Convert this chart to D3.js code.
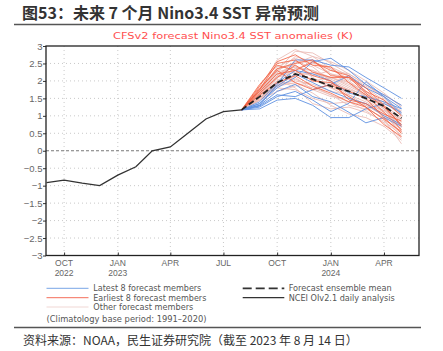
<!DOCTYPE html>
<html><head><meta charset="utf-8">
<script src="https://cdn.jsdelivr.net/npm/d3@7/dist/d3.min.js"></script>
<style>body{margin:0;background:#fff}svg{display:block}</style>
</head><body>
<script>
// ---- data ----
const obsDates = ["2022-09-01","2022-10-01","2022-11-01","2022-12-01","2023-01-01","2023-02-01","2023-03-01","2023-04-01","2023-05-01","2023-06-01","2023-07-01","2023-08-01"];
const obsValues = [-0.91,-0.84,-0.93,-1.0,-0.70,-0.46,0.0,0.11,0.50,0.91,1.12,1.17];
const fcDates = ["2023-08-01","2023-09-01","2023-10-01","2023-11-01","2023-12-01","2024-01-01","2024-02-01","2024-03-01","2024-04-01","2024-05-01"];
const ensembleMean = [1.17,1.55,1.95,2.20,2.05,1.85,1.70,1.50,1.28,0.93];
const earliestMembers = [
 [1.17,1.85,2.55,2.75,2.45,2.4,1.95,1.6,1.1,0.6],
 [1.17,1.75,2.35,2.5,2.6,2.15,2.1,1.65,1.25,0.75],
 [1.17,1.9,2.45,2.3,2.0,1.95,1.7,1.5,0.95,0.5],
 [1.17,1.7,2.2,2.3,2.55,2.3,2.15,1.7,1.45,1.0],
 [1.17,1.8,2.3,1.95,1.75,1.9,1.55,1.25,0.75,0.4],
 [1.17,1.65,2.1,2.45,2.15,2.0,1.45,1.35,1.05,0.85],
 [1.17,1.75,2.5,2.6,2.25,2.1,2.1,1.8,1.3,0.7],
 [1.17,1.6,1.95,2.15,1.85,1.65,1.4,1.25,0.9,0.55]
];
const latestMembers = [
 [1.17,1.3,1.9,2.6,2.6,2.45,2.4,2.1,1.8,1.5],
 [1.17,1.25,1.55,1.7,1.45,1.12,1.36,1.98,1.55,1.21],
 [1.17,1.2,1.45,1.5,1.3,0.95,0.95,1.2,1.35,1.1],
 [1.17,1.35,1.8,2.1,2.55,2.65,2.3,1.9,1.6,1.3],
 [1.17,1.3,1.7,1.9,1.55,1.4,1.1,0.8,0.95,0.7],
 [1.17,1.4,1.95,2.3,2.2,2.0,1.65,1.55,1.4,1.2],
 [1.17,1.28,1.6,1.55,1.75,1.9,2.15,1.8,1.55,1.05],
 [1.17,1.35,1.85,2.2,1.95,1.7,1.5,1.35,1.0,0.75]
];
const otherMembers = [
 [1.17,1.6,2.3,2.85,2.8,2.5,2.2,1.9,1.5,1.0],
 [1.17,1.55,2.1,2.5,2.7,2.55,2.3,2.0,1.65,1.25],
 [1.17,1.5,1.9,2.0,1.9,1.7,1.6,1.4,1.1,0.7],
 [1.17,1.45,1.8,1.75,1.5,1.35,1.4,1.3,1.0,0.6],
 [1.17,1.65,2.2,2.4,2.3,2.1,1.9,1.6,1.25,0.9],
 [1.17,1.7,2.4,2.65,2.45,2.2,2.1,1.7,1.3,0.8],
 [1.17,1.5,1.95,2.15,2.25,2.05,1.8,1.55,1.35,1.15],
 [1.17,1.55,2.0,1.9,1.65,1.3,1.05,0.95,0.7,0.3],
 [1.17,1.6,2.15,2.3,2.0,1.9,1.75,1.6,1.4,1.0],
 [1.17,1.45,1.7,1.85,2.0,2.1,1.95,1.7,1.3,0.95],
 [1.17,1.75,2.6,2.9,2.7,2.35,2.0,1.65,1.2,0.6],
 [1.17,1.5,1.85,2.05,1.85,1.6,1.4,1.15,0.8,0.35],
 [1.17,1.6,2.1,2.25,2.15,2.3,2.2,1.9,1.55,1.1],
 [1.17,1.55,2.05,1.8,1.35,1.2,1.25,1.1,0.85,0.45],
 [1.17,1.7,2.3,2.55,2.4,2.0,1.75,1.45,1.15,0.75],
 [1.17,1.6,2.25,2.7,2.55,2.35,2.05,1.8,1.45,1.05],
 [1.17,1.5,2.0,2.35,2.3,1.95,1.6,1.3,1.05,0.5],
 [1.17,1.45,1.9,2.2,2.05,1.8,1.7,1.5,1.2,0.85],
 [1.17,1.65,2.35,2.45,2.1,1.8,1.55,1.25,0.9,0.2],
 [1.17,1.55,2.1,2.35,2.5,2.4,2.15,1.85,1.6,1.3],
 [1.17,1.5,1.95,2.1,1.75,1.55,1.5,1.35,1.15,0.9],
 [1.17,1.6,2.15,2.55,2.6,2.2,1.95,1.55,1.25,0.65],
 [1.17,1.45,1.85,1.95,1.8,1.6,1.3,1.2,0.95,0.4],
 [1.17,1.7,2.25,2.4,2.2,2.1,1.85,1.6,1.3,0.55]
];
const yTicks = [3,2.5,2,1.5,1,0.5,0,-0.5,-1,-1.5,-2,-2.5,-3];
const xTickDates = ["2022-10-01","2023-01-01","2023-04-01","2023-07-01","2023-10-01","2024-01-01","2024-04-01"];
const xTickLabels = [["OCT","2022"],["JAN","2023"],["APR"],["JUL"],["OCT"],["JAN","2024"],["APR"]];
const titleText = "图53：未来 7 个月 Nino3.4 SST 异常预测";
const subtitleText = "CFSv2 forecast Nino3.4 SST anomalies (K)";
const sourceText = "资料来源：NOAA，民生证券研究院（截至 2023 年 8 月 14 日）";

// ---- drawing ----
const W = 443, H = 351;
const parse = d3.timeParse("%Y-%m-%d");
const svg = d3.select("body").append("svg").attr("width", W).attr("height", H);
const x = d3.scaleTime().domain([parse("2022-08-31"), parse("2024-05-31")]).range([46, 419]);
const y = d3.scaleLinear().domain([-3, 3]).range([255.5, 46]);

// title
svg.append("text").attr("x", 22).attr("y", 19).text(titleText)
  .attr("font-family", "'Noto Sans CJK SC', sans-serif").attr("font-weight", "bold")
  .attr("font-size", 16).attr("fill", "#333");
svg.append("line").attr("x1", 14).attr("x2", 421).attr("y1", 24.5).attr("y2", 24.5)
  .attr("stroke", "#555").attr("stroke-width", 1.5);
svg.append("text").attr("x", 113).attr("y", 38.5).text(subtitleText)
  .attr("font-family", "'DejaVu Sans', sans-serif").attr("font-size", 9.5)
  .attr("textLength", 240).attr("lengthAdjust", "spacingAndGlyphs").attr("fill", "#ff4f4f");

// grid
const g = svg.append("g");
g.selectAll(".hg").data(yTicks.filter(d => d !== 0 && Math.abs(d) !== 3)).enter().append("line")
  .attr("x1", 46).attr("x2", 419).attr("y1", d => y(d)).attr("y2", d => y(d))
  .attr("stroke", "#bbb").attr("stroke-width", 0.8).attr("stroke-dasharray", "1,3");
g.selectAll(".vg").data(xTickDates).enter().append("line")
  .attr("x1", d => x(parse(d))).attr("x2", d => x(parse(d))).attr("y1", 46).attr("y2", 255.5)
  .attr("stroke", "#bbb").attr("stroke-width", 0.8).attr("stroke-dasharray", "1,3");
g.append("line").attr("x1", 46).attr("x2", 419).attr("y1", y(0)).attr("y2", y(0))
  .attr("stroke", "#777").attr("stroke-width", 1).attr("stroke-dasharray", "3,2");

// y axis labels & ticks
const yAxis = d3.axisLeft(y).tickValues(yTicks).tickSize(3)
  .tickFormat(d => (d < 0 ? "\u2212" + Math.abs(d) : String(d)));
const ya = svg.append("g").attr("transform", "translate(46,0)").call(yAxis);
ya.select(".domain").remove();
ya.selectAll("line").attr("stroke", "#333");
ya.selectAll("text").attr("font-family", "'Liberation Sans', sans-serif").attr("font-size", 9.5)
  .attr("fill", "#666").attr("x", -3.5);

// x axis labels
const xAxis = d3.axisBottom(x).tickValues(xTickDates.map(parse)).tickSize(3).tickFormat("");
const xa = svg.append("g").attr("transform", "translate(0,255.5)").call(xAxis);
xa.select(".domain").remove();
xa.selectAll("line").attr("stroke", "#333").attr("transform", "translate(0,-3)");
xTickDates.forEach((d, i) => {
  const t = svg.append("text").attr("x", x(parse(d))).attr("text-anchor", "middle")
    .attr("font-family", "'Liberation Sans Narrow','Liberation Sans', sans-serif").attr("font-size", 8.5).attr("fill", "#666");
  xTickLabels[i].forEach((s, j) => t.append("tspan").attr("x", x(parse(d))).attr("y", 266 + j * 9.5).text(s));
});

// member lines
const line = d3.line().x((d, i) => x(parse(fcDates[i]))).y(d => y(d));
svg.append("clipPath").attr("id", "clip").append("rect").attr("x", 46).attr("y", 46).attr("width", 373).attr("height", 209.5);
const mg = svg.append("g").attr("clip-path", "url(#clip)");
mg.selectAll(".o").data(otherMembers).enter().append("path").attr("d", line)
  .attr("fill", "none").attr("stroke", "rgb(234,186,180)").attr("stroke-opacity", 0.85).attr("stroke-width", 1);
mg.selectAll(".b").data(latestMembers).enter().append("path").attr("d", line)
  .attr("fill", "none").attr("stroke", "rgb(95,145,225)").attr("stroke-opacity", 0.9).attr("stroke-width", 1);
mg.selectAll(".r").data(earliestMembers).enter().append("path").attr("d", line)
  .attr("fill", "none").attr("stroke", "rgb(244,95,62)").attr("stroke-opacity", 0.8).attr("stroke-width", 1);
mg.append("path").attr("d", line(ensembleMean)).attr("fill", "none").attr("stroke", "#222")
  .attr("stroke-width", 1.8).attr("stroke-dasharray", "6,3");
const obsLine = d3.line().x((d, i) => x(parse(obsDates[i]))).y(d => y(d));
mg.append("path").attr("d", obsLine(obsValues)).attr("fill", "none").attr("stroke", "#333").attr("stroke-width", 1.3);

// frame
svg.append("rect").attr("x", 46).attr("y", 46).attr("width", 373).attr("height", 209.5)
  .attr("fill", "none").attr("stroke", "#222").attr("stroke-width", 1.3);

// legend
const lg = svg.append("g").attr("font-family", "'DejaVu Sans', sans-serif").attr("font-size", 8).attr("fill", "#555");
const legItems = [
  {x1: 46.5, x2: 88.5, y: 288.3, color: "rgb(120,165,230)", dash: null, w: 1, tx: 93.3, text: "Latest 8 forecast members", len: 108},
  {x1: 46.5, x2: 88.5, y: 297.7, color: "rgb(244,110,90)", dash: null, w: 1, tx: 93.3, text: "Earliest 8 forecast members", len: 113},
  {x1: 46.5, x2: 88.5, y: 307, color: "rgb(240,215,212)", dash: null, w: 1, tx: 93.3, text: "Other forecast members", len: 100},
  {x1: 242.7, x2: 284.3, y: 288.3, color: "#333", dash: "9,4", w: 1.8, tx: 288.7, text: "Forecast ensemble mean", len: 103},
  {x1: 242.7, x2: 284.3, y: 297.7, color: "#333", dash: null, w: 1.3, tx: 288.7, text: "NCEI OIv2.1 daily analysis", len: 106}
];
legItems.forEach(d => {
  const l = lg.append("line").attr("x1", d.x1).attr("x2", d.x2).attr("y1", d.y).attr("y2", d.y)
    .attr("stroke", d.color).attr("stroke-width", d.w);
  if (d.dash) l.attr("stroke-dasharray", d.dash);
  lg.append("text").attr("x", d.tx).attr("y", d.y + 3).text(d.text)
    .attr("textLength", d.len).attr("lengthAdjust", "spacingAndGlyphs");
});
lg.append("text").attr("x", 46.5).attr("y", 321.5).text("(Climatology base period: 1991\u20132020)")
  .attr("textLength", 160).attr("lengthAdjust", "spacingAndGlyphs");

svg.append("line").attr("x1", 14).attr("x2", 421).attr("y1", 327.5).attr("y2", 327.5)
  .attr("stroke", "#555").attr("stroke-width", 1.5);
svg.append("text").attr("x", 23).attr("y", 344.5).text(sourceText)
  .attr("font-family", "'Noto Sans CJK SC', sans-serif").attr("font-size", 12).attr("fill", "#333");
</script>
</body></html>
